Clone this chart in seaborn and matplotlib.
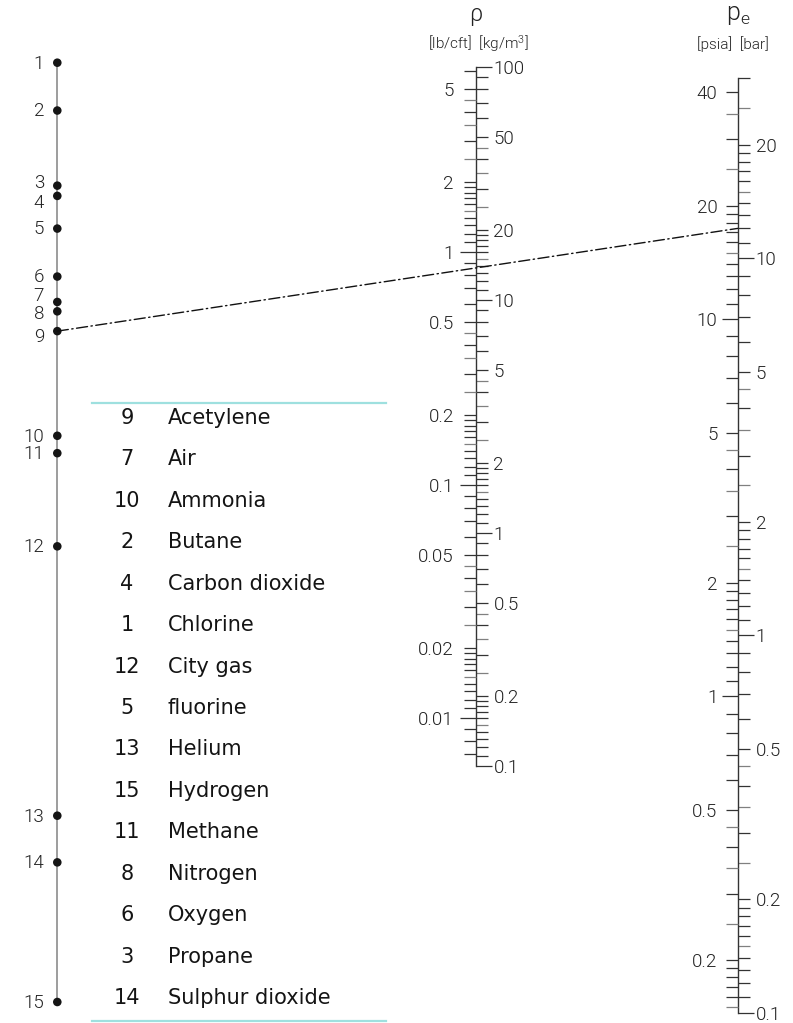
import numpy as np
import matplotlib
matplotlib.use("Agg")
import matplotlib.pyplot as plt
from matplotlib import font_manager as fm
from matplotlib.patches import ConnectionPatch
from matplotlib.ticker import NullFormatter
import pandas as pd
import seaborn as sns

# ---------------------------------------------------------------- data
# gas scale: position value of each numbered gas point
gas_ids = list(range(1, 16))
gas_scale = [71.0, 59.2, 44.5, 42.8, 37.8, 31.5, 28.6, 27.6, 25.6,
             17.2, 16.1, 11.3, 4.06, 3.40, 2.0]

# legend table
table_ids = [9, 7, 10, 2, 4, 1, 12, 5, 13, 15, 11, 8, 6, 3, 14]
table_names = ["Acetylene", "Air", "Ammonia", "Butane", "Carbon dioxide",
               "Chlorine", "City gas", "fluorine", "Helium", "Hydrogen",
               "Methane", "Nitrogen", "Oxygen", "Propane", "Sulphur dioxide"]

# density scale
rho_range = (0.1, 100.0)                       # kg/m3
rho_kg_labels = [100, 50, 20, 10, 5, 2, 1, 0.5, 0.2, 0.1]
rho_lb_labels = [5, 2, 1, 0.5, 0.2, 0.1, 0.05, 0.02, 0.01]
KG_PER_LB = 16.018                             # kg/m3 per lb/cft

# pressure scale
pe_range = (0.1, 30.0)                         # bar
pe_bar_labels = [20, 10, 5, 2, 1, 0.5, 0.2, 0.1]
pe_psia_labels = [40, 20, 10, 5, 2, 1, 0.5, 0.2]
PSIA_PER_BAR = 1.4504                          # psia-scale units per bar

# worked example: gas 9 at 12 bar
example_gas = 9
example_pe = 12.0

# subdivision of every decade
full_mantissa = [1.1, 1.2, 1.3, 1.4, 1.6, 1.7, 1.8, 1.9, 2, 3, 4, 5, 6, 7, 8, 9]
half_mantissa = [1.5, 2.5, 3.5, 4.5]

# ---------------------------------------------------------------- style
sns.set_style("white")


def pick_light_family():
    for name in ["Roboto", "Lato", "Open Sans", "Inter", "Noto Sans"]:
        for f in fm.fontManager.ttflist:
            w = f.weight
            if isinstance(w, str):
                w = fm.weight_dict.get(w, 400)
            if f.name == name and int(w) <= 300:
                return name, 300
    return "Liberation Sans", "normal"


LIGHT_FAMILY, LIGHT_WEIGHT = pick_light_family()
plt.rcParams["font.family"] = [LIGHT_FAMILY, "DejaVu Sans"]
plt.rcParams["font.weight"] = LIGHT_WEIGHT
plt.rcParams["mathtext.default"] = "regular"

TEXT_C = "#222222"
TICK_C = "#333333"
HALF_C = "#808080"
L_LONG, L_NORM = 11.5, 8.5
TICK_W = 0.9
LABEL_FS = 13.5

W, H = 793, 1023
fig = plt.figure(figsize=(W / 100, H / 100), dpi=100)
fig.patch.set_facecolor("white")


def frac_rect(x_px, top_px, bottom_px, width_px=0.08):
    return [x_px / W, 1 - bottom_px / H, width_px / W, (bottom_px - top_px) / H]


def bare_axes(rect, lim):
    ax = fig.add_axes(rect)
    ax.set_yscale("log")
    ax.set_ylim(*lim)
    ax.set_xlim(0, 1)
    ax.patch.set_visible(False)
    for s in ax.spines.values():
        s.set_visible(False)
    ax.xaxis.set_visible(False)
    ax.grid(False)
    return ax


def is_decade(v):
    return np.isclose(np.log10(v) % 1, 0) or np.isclose(np.log10(v) % 1, 1)


def fmt(v):
    return "{:g}".format(v)


def scale_side(rect, lim, side, labels, total_pad):
    lo, hi = lim
    ks = range(int(np.floor(np.log10(lo))) - 1, int(np.ceil(np.log10(hi))) + 1)

    def within(v):
        return lo * 0.999 <= v <= hi * 1.001 and not any(np.isclose(v, l) for l in labels)

    full = [m * 10.0 ** k for k in ks for m in full_mantissa if within(m * 10.0 ** k)]
    half = [m * 10.0 ** k for k in ks for m in half_mantissa if within(m * 10.0 ** k)]
    dec = [v for v in labels if is_decade(v)]
    other = [v for v in labels if not is_decade(v)]

    ax_a = bare_axes(rect, lim)
    ax_b = bare_axes(rect, lim)
    for ax, major, minor, lmaj, cmin in ((ax_a, dec, half, L_LONG, HALF_C),
                                          (ax_b, other, full, L_NORM, TICK_C)):
        if side == "left":
            ax.yaxis.tick_left()
        else:
            ax.yaxis.tick_right()
        ax.set_yticks(major, labels=[fmt(v) for v in major])
        ax.set_yticks(minor, minor=True)
        ax.yaxis.set_minor_formatter(NullFormatter())
        ax.tick_params(axis="y", which="major", direction="out", length=lmaj,
                       width=TICK_W, color=TICK_C, pad=total_pad - lmaj,
                       labelsize=LABEL_FS, labelcolor=TEXT_C)
        ax.tick_params(axis="y", which="minor", direction="out", length=L_NORM,
                       width=TICK_W, color=cmin)
    return ax_a, ax_b


# ---------------------------------------------------------------- density scale
rho_rect = frac_rect(476, 66.7, 765.7)
rho_kg_a, _ = scale_side(rho_rect, rho_range, "right", rho_kg_labels, 12.5)
scale_side(rho_rect, (rho_range[0] / KG_PER_LB, rho_range[1] / KG_PER_LB),
           "left", rho_lb_labels, 16.0)
rho_kg_a.spines["left"].set_visible(True)
rho_kg_a.spines["left"].set_color(TICK_C)
rho_kg_a.spines["left"].set_linewidth(1.0)

# ---------------------------------------------------------------- pressure scale
pe_rect = frac_rect(737.7, 78.3, 1012.7)
pe_bar_a, _ = scale_side(pe_rect, pe_range, "right", pe_bar_labels, 13.0)
scale_side(pe_rect, (pe_range[0] * PSIA_PER_BAR, pe_range[1] * PSIA_PER_BAR),
           "left", pe_psia_labels, 14.5)
pe_bar_a.spines["left"].set_visible(True)
pe_bar_a.spines["left"].set_color(TICK_C)
pe_bar_a.spines["left"].set_linewidth(1.0)

# ---------------------------------------------------------------- gas scale
gas_df = pd.DataFrame({"id": gas_ids, "scale": gas_scale, "x": 0.0})
ax_gas = bare_axes(frac_rect(57.3, 62.7, 1002), (min(gas_scale), max(gas_scale)))
ax_gas.set_yticks([])
ax_gas.set_yticks([], minor=True)
ax_gas.spines["left"].set_visible(True)
ax_gas.spines["left"].set_color("#8c8c8c")
ax_gas.spines["left"].set_linewidth(1.2)
sns.scatterplot(data=gas_df, x="x", y="scale", ax=ax_gas, color="#151515",
                s=38, edgecolor="none", clip_on=False, zorder=5, legend=False)
ax_gas.set_xlim(0, 1)
ax_gas.set_xlabel("")
ax_gas.set_ylabel("")

# vertical nudges (points) for crowded labels
label_nudge = {3: 1.6, 4: -4.8, 7: 4.5, 8: -2.0, 9: -4.2}
for gid, val in zip(gas_ids, gas_scale):
    ax_gas.annotate(str(gid), xy=(0, val), xycoords="data",
                    xytext=(-9.5, label_nudge.get(gid, -0.6)),
                    textcoords="offset points", ha="right", va="center",
                    fontsize=13.5, color=TEXT_C, annotation_clip=False)

# ---------------------------------------------------------------- worked example
con = ConnectionPatch(xyA=(0, gas_scale[gas_ids.index(example_gas)]), coordsA="data",
                      axesA=ax_gas, xyB=(0, example_pe), coordsB="data",
                      axesB=pe_bar_a, arrowstyle="-", linestyle=(0, (8, 2.5, 1, 2.5)),
                      linewidth=1.0, color="#111111", zorder=4)
fig.add_artist(con)

# ---------------------------------------------------------------- titles
fig.text(476 / W, 1 - 15 / H, "ρ", ha="center", va="center", fontsize=17, color=TEXT_C)
fig.text(478 / W, 1 - 44 / H, r"[lb/cft]  [kg/m$^3$]", ha="center", va="center",
         fontsize=11, color=TEXT_C)
fig.text(738 / W, 1 - 15 / H, r"$p_e$", ha="center", va="center", fontsize=18,
         color=TEXT_C)
fig.text(733 / W, 1 - 44 / H, "[psia]  [bar]", ha="center", va="center",
         fontsize=11, color=TEXT_C)

# ---------------------------------------------------------------- legend table
row_pitch = 41.43
tab_top, tab_bottom, first_row = 403, 1021, 418
ax_tab = fig.add_axes([92 / W, 1 - tab_bottom / H, 294 / W, (tab_bottom - tab_top) / H])
ax_tab.set_xlim(0, 1)
ax_tab.set_ylim((tab_bottom - first_row) / row_pitch, -(first_row - tab_top) / row_pitch)
ax_tab.patch.set_visible(False)
ax_tab.set_xticks([])
ax_tab.set_yticks([])
for name, s in ax_tab.spines.items():
    if name in ("top", "bottom"):
        s.set_visible(True)
        s.set_color("#9ee0df")
        s.set_linewidth(1.6)
    else:
        s.set_visible(False)
tr = ax_tab.get_yaxis_transform()
for i, (num, name) in enumerate(zip(table_ids, table_names)):
    ax_tab.text(0.119, i, str(num), transform=tr, ha="center", va="center",
                fontsize=15, family="DejaVu Sans", weight="normal", color="#141414")
    ax_tab.text(0.2585, i, name, transform=tr, ha="left", va="center",
                fontsize=15, family="DejaVu Sans", weight="normal", color="#141414")

fig.savefig("out.png", dpi=100, facecolor="white")
